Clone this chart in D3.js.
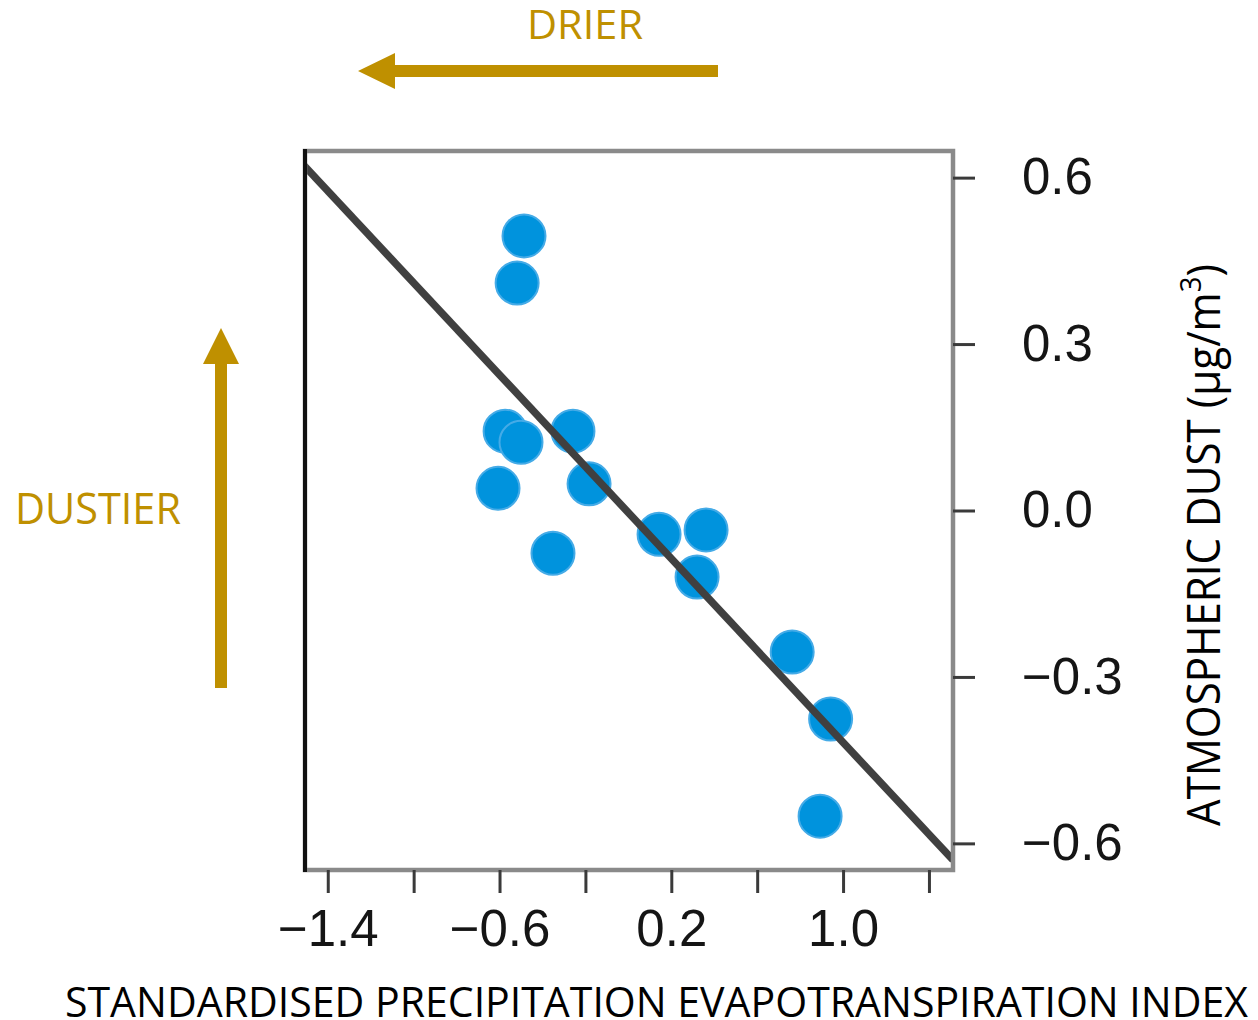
<!DOCTYPE html>
<html>
<head>
<meta charset="utf-8">
<script src="https://cdn.jsdelivr.net/npm/d3@7"></script>
<style>
  html, body { margin: 0; padding: 0; background: #ffffff; }
  svg { display: block; }
</style>
</head>
<body>
<svg id="chart" width="1258" height="1020"></svg>
<script>
// Standardised Precipitation Evapotranspiration Index (x) vs atmospheric dust (y)
const spei = [-0.486, -0.518, -0.574, -0.500, -0.258, -0.183, -0.607, -0.351, 0.143, 0.362, 0.320, 0.763, 0.942, 0.893];
const dust = [0.495, 0.410, 0.143, 0.123, 0.143, 0.048, 0.040, -0.077, -0.043, -0.035, -0.120, -0.255, -0.376, -0.551];

// Fitted regression line, given by its two ends
const fitSpei = [-1.516, 1.512];
const fitDust = [0.624, -0.630];

const xTicks = [-1.4, -1.0, -0.6, -0.2, 0.2, 0.6, 1.0, 1.4];
const xTickLabels = ["−1.4", "", "−0.6", "", "0.2", "", "1.0", ""];
const yTicks = [0.6, 0.3, 0.0, -0.3, -0.6];

const xTitle = "STANDARDISED PRECIPITATION EVAPOTRANSPIRATION INDEX";
const yTitle = ["ATMOSPHERIC DUST (µg/m", "3", ")"];
const drierLabel = "DRIER";
const dustierLabel = "DUSTIER";

const svg = d3.select("#chart");
const plot = { left: 305, right: 953, top: 151, bottom: 870 };

const x = d3.scaleLinear().domain([-1.506, 1.512]).range([plot.left, plot.right]);
const y = d3.scaleLinear().domain([-0.648, 0.648]).range([plot.bottom, plot.top]);

const gold = "#BF9000";
const calibriLike = "'Open Sans', 'Noto Sans', sans-serif";

svg.append("defs").append("clipPath").attr("id", "plot-clip")
  .append("rect")
  .attr("x", plot.left).attr("y", plot.top)
  .attr("width", plot.right - plot.left).attr("height", plot.bottom - plot.top);

// Points
const pts = spei.map((v, i) => ({ x: v, y: dust[i] }));
svg.append("g").selectAll("circle").data(pts).join("circle")
  .attr("cx", d => x(d.x))
  .attr("cy", d => y(d.y))
  .attr("r", 21.5)
  .attr("fill", "#0093DD")
  .attr("stroke", "#45ABE7")
  .attr("stroke-width", 2);

// Regression line (clipped to the plotting box)
const fit = fitSpei.map((v, i) => ({ x: v, y: fitDust[i] }));
svg.append("path")
  .datum(fit)
  .attr("clip-path", "url(#plot-clip)")
  .attr("d", d3.line().x(d => x(d.x)).y(d => y(d.y)))
  .attr("fill", "none")
  .attr("stroke", "#404040")
  .attr("stroke-width", 7.5);

// Plot frame
svg.append("rect")
  .attr("x", plot.left).attr("y", plot.top)
  .attr("width", plot.right - plot.left).attr("height", plot.bottom - plot.top)
  .attr("fill", "none").attr("stroke", "#8a8a8a").attr("stroke-width", 4.5);
svg.append("line")
  .attr("x1", plot.left).attr("x2", plot.left)
  .attr("y1", plot.top - 2).attr("y2", plot.bottom + 2)
  .attr("stroke", "#111").attr("stroke-width", 4);

// Bottom axis
const xAxis = d3.axisBottom(x)
  .tickValues(xTicks)
  .tickFormat((d, i) => xTickLabels[i])
  .tickSize(23)
  .tickPadding(17);
const gx = svg.append("g")
  .attr("transform", `translate(0,${plot.bottom})`)
  .call(xAxis);
gx.select(".domain").remove();
gx.selectAll(".tick line").attr("stroke", "#3a3a3a").attr("stroke-width", 3);
gx.selectAll(".tick text")
  .attr("font-family", "'Liberation Sans', Arial, sans-serif")
  .attr("font-size", 51)
  .attr("fill", "#151515");

// Right axis
const yAxis = d3.axisRight(y)
  .tickValues(yTicks)
  .tickFormat(d3.format(".1f"))
  .tickSize(22)
  .tickPadding(47);
const gy = svg.append("g")
  .attr("transform", `translate(${plot.right},0)`)
  .call(yAxis);
gy.select(".domain").remove();
gy.selectAll(".tick line").attr("stroke", "#3a3a3a").attr("stroke-width", 3);
gy.selectAll(".tick text")
  .attr("font-family", "'Liberation Sans', Arial, sans-serif")
  .attr("font-size", 51)
  .attr("fill", "#151515");

// Stretch or squeeze a text horizontally so it spans a given width
function fitWidth(sel, width) {
  const w = sel.node().getBBox().width;
  return width / w;
}

// Bottom axis title
const xt = svg.append("text")
  .attr("font-family", calibriLike)
  .attr("font-size", 42)
  .attr("fill", "#000")
  .text(xTitle);
const sx1 = fitWidth(xt, 1184);
xt.attr("transform", `translate(65,1017) scale(${sx1},1)`);

// Right axis title (rotated)
const yt = svg.append("text")
  .attr("font-family", calibriLike)
  .attr("font-size", 46)
  .attr("fill", "#000");
yt.append("tspan").text(yTitle[0]);
yt.append("tspan").attr("font-size", 30).attr("dy", -19).text(yTitle[1]);
yt.append("tspan").attr("dy", 19).text(yTitle[2]);
const sy1 = fitWidth(yt, 562);
yt.attr("transform", `translate(1220,826) rotate(-90) scale(${sy1},1)`);

// DRIER arrow and label
svg.append("path")
  .attr("d", "M718,65 L395,65 L395,53 L358,71 L395,89 L395,77 L718,77 Z")
  .attr("fill", gold);
const dr = svg.append("text")
  .attr("font-family", calibriLike)
  .attr("font-size", 41)
  .attr("fill", gold)
  .text(drierLabel);
const sx2 = fitWidth(dr, 116);
dr.attr("transform", `translate(527,39) scale(${sx2},1)`);

// DUSTIER arrow and label
svg.append("path")
  .attr("d", "M215,688 L215,364 L203,364 L221,328 L239,364 L227,364 L227,688 Z")
  .attr("fill", gold);
const du = svg.append("text")
  .attr("font-family", calibriLike)
  .attr("font-size", 43)
  .attr("fill", gold)
  .text(dustierLabel);
const sx3 = fitWidth(du, 166);
du.attr("transform", `translate(15,524) scale(${sx3},1)`);
</script>
</body>
</html>
